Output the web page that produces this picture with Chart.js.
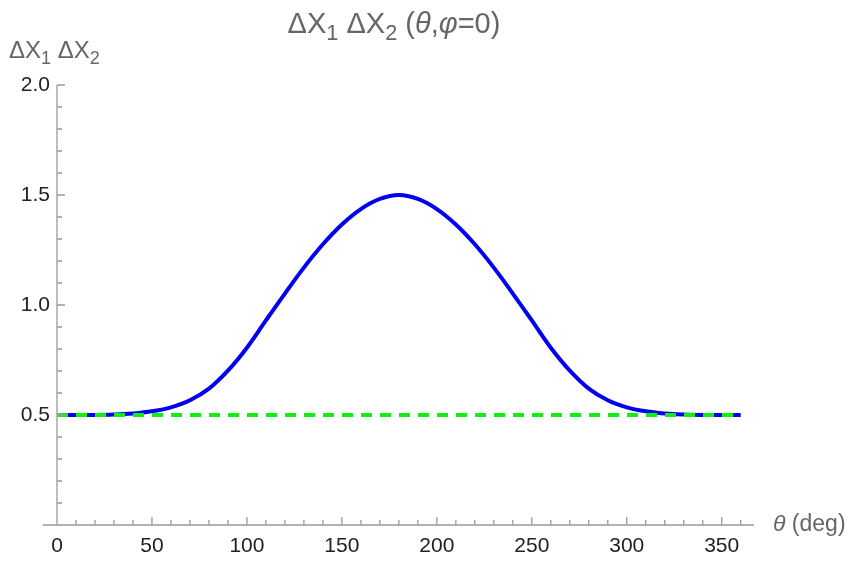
<!DOCTYPE html>
<html>
<head>
<meta charset="utf-8">
<script src="https://cdn.jsdelivr.net/npm/chart.js@4.4.1/dist/chart.umd.min.js"></script>
<style>
  html, body { margin: 0; padding: 0; background: #fff; }
</style>
</head>
<body>
<canvas id="chart" width="848" height="561"></canvas>
<script>
// theta in degrees, uncertainty product
const thetaDeg = [0, 10, 20, 30, 40, 50, 60, 70, 80, 90, 100, 110, 120, 130, 140, 150, 160, 170, 180,
  190, 200, 210, 220, 230, 240, 250, 260, 270, 280, 290, 300, 310, 320, 330, 340, 350, 360];
const deltaProduct = [0.5, 0.5, 0.5, 0.502, 0.507, 0.517, 0.535, 0.567, 0.62, 0.702, 0.806, 0.93, 1.052, 1.17, 1.276, 1.366, 1.436, 1.482, 1.5,
  1.482, 1.436, 1.366, 1.276, 1.17, 1.052, 0.93, 0.806, 0.702, 0.62, 0.567, 0.535, 0.517, 0.507, 0.502, 0.5, 0.5, 0.5];

// minimum uncertainty line
const baselineTheta = [0, 360];
const baselineValue = [0.5, 0.5];

const xLabelTicks = [0, 50, 100, 150, 200, 250, 300, 350];
const yLabelTicks = [0.5, 1.0, 1.5, 2.0];

const FONT = '"Liberation Sans", Arial, sans-serif';

function isMajorX(v) { return xLabelTicks.includes(Math.round(v)); }
function isMajorY(v) { return yLabelTicks.some((t) => Math.abs(t - v) < 1e-6); }

function drawRich(ctx, parts, x, y, size, align) {
  const pieces = parts.map((p) => {
    const s = p.sub ? size * 0.75 : size;
    const f = (p.it ? "italic " : "") + s + "px " + FONT;
    ctx.font = f;
    return { t: p.t, f: f, w: ctx.measureText(p.t).width, dy: p.sub ? size * 0.25 : 0 };
  });
  const total = pieces.reduce((a, b) => a + b.w, 0);
  let cx = align === "center" ? x - total / 2 : x;
  ctx.textAlign = "left";
  ctx.textBaseline = "alphabetic";
  pieces.forEach((p) => {
    ctx.font = p.f;
    ctx.fillText(p.t, cx, y + p.dy);
    cx += p.w;
  });
}

const axesPlugin = {
  id: "mmaAxes",
  afterDraw(chart) {
    const ctx = chart.ctx;
    const xs = chart.scales.x;
    const ys = chart.scales.y;
    const y0 = ys.getPixelForValue(0);
    const x0 = xs.getPixelForValue(0);
    ctx.save();
    ctx.strokeStyle = "#9a9a9a";
    ctx.lineWidth = 1.3;
    ctx.beginPath();
    ctx.moveTo(xs.getPixelForValue(-7.5), y0);
    ctx.lineTo(xs.getPixelForValue(367), y0);
    ctx.moveTo(x0, ys.getPixelForValue(2));
    ctx.lineTo(x0, y0);
    xs.ticks.forEach((t) => {
      const px = xs.getPixelForValue(t.value);
      const len = isMajorX(t.value) ? 8 : 5;
      ctx.moveTo(px, y0);
      ctx.lineTo(px, y0 - len);
    });
    ys.ticks.forEach((t) => {
      if (t.value <= 0) return;
      const py = ys.getPixelForValue(t.value);
      const len = isMajorY(t.value) ? 8 : 5;
      ctx.moveTo(x0, py);
      ctx.lineTo(x0 + len, py);
    });
    ctx.stroke();

    ctx.fillStyle = "#666";
    drawRich(ctx, [
      { t: "\u0394X" }, { t: "1", sub: true }, { t: " \u0394X" }, { t: "2", sub: true },
      { t: " (" }, { t: "\u03B8", it: true }, { t: "," }, { t: "\u03C6", it: true }, { t: "=0)" }
    ], 394, 33, 29, "center");
    drawRich(ctx, [
      { t: "\u0394X" }, { t: "1", sub: true }, { t: " \u0394X" }, { t: "2", sub: true }
    ], 9, 58, 24, "left");
    drawRich(ctx, [{ t: "\u03B8", it: true }, { t: " (deg)" }], 773, 531, 23, "left");
    ctx.restore();
  }
};

new Chart(document.getElementById("chart").getContext("2d"), {
  type: "line",
  data: {
    datasets: [
      {
        label: "minimum",
        data: baselineTheta.map((t, i) => ({ x: t, y: baselineValue[i] })),
        borderColor: "#11ee11",
        borderWidth: 4,
        borderDash: [11, 8],
        pointRadius: 0,
        order: 0
      },
      {
        label: "product",
        data: thetaDeg.map((t, i) => ({ x: t, y: deltaProduct[i] })),
        borderColor: "#0000f0",
        borderWidth: 4,
        pointRadius: 0,
        tension: 0.4,
        order: 1
      }
    ]
  },
  options: {
    responsive: false,
    animation: false,
    layout: { padding: { top: 85, right: 94, left: 0, bottom: 0 } },
    plugins: {
      legend: { display: false },
      tooltip: { enabled: false },
      title: { display: false }
    },
    scales: {
      x: {
        type: "linear",
        min: 0,
        max: 367,
        grid: { display: false, drawTicks: false },
        border: { display: false },
        afterFit: (s) => { s.height = 36; },
        ticks: {
          stepSize: 10,
          includeBounds: false,
          autoSkip: false,
          maxRotation: 0,
          padding: 9,
          color: "#222",
          font: { family: FONT, size: 21 },
          callback: (v) => (isMajorX(v) ? String(v) : "")
        }
      },
      y: {
        type: "linear",
        min: 0,
        max: 2,
        grid: { display: false, drawTicks: false },
        border: { display: false },
        afterFit: (s) => { s.width = 57; },
        ticks: {
          stepSize: 0.1,
          includeBounds: false,
          autoSkip: false,
          padding: 7,
          color: "#222",
          font: { family: FONT, size: 21 },
          callback: (v) => (v > 0 && isMajorY(v) ? v.toFixed(1) : "")
        }
      }
    }
  },
  plugins: [axesPlugin]
});
</script>
</body>
</html>
